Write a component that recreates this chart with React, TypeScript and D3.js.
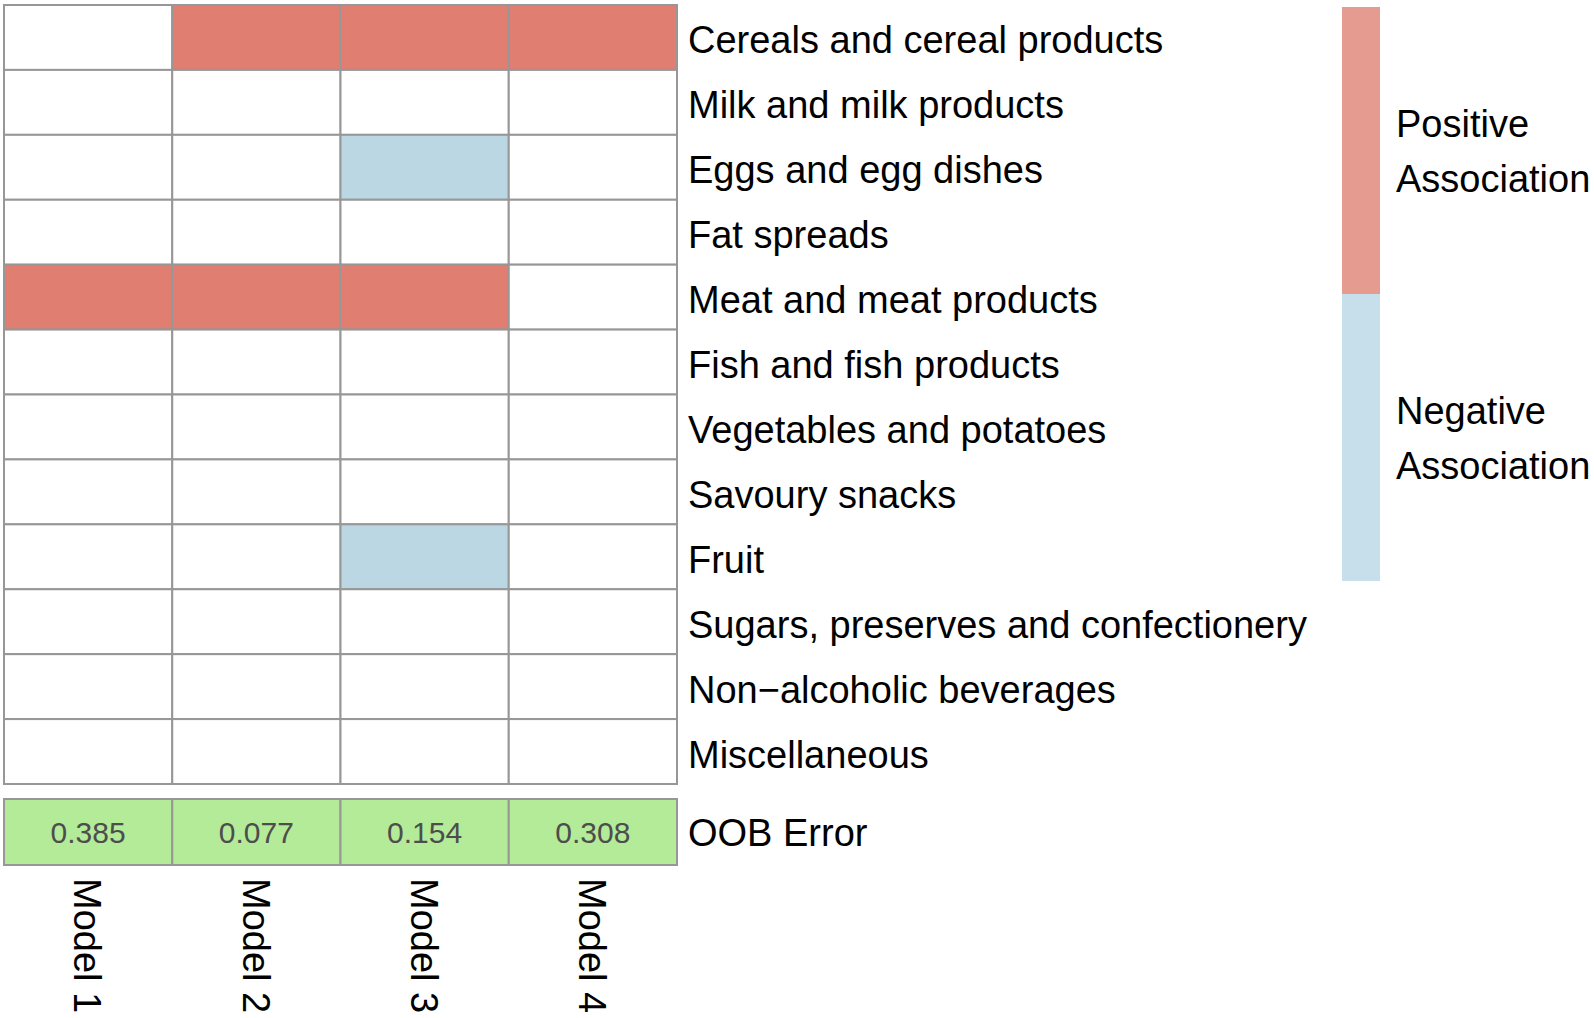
import React, {useEffect, useRef} from 'react';
import * as d3 from 'd3';

const models = ['Model 1', 'Model 2', 'Model 3', 'Model 4'];
const foodGroups = [
  'Cereals and cereal products',
  'Milk and milk products',
  'Eggs and egg dishes',
  'Fat spreads',
  'Meat and meat products',
  'Fish and fish products',
  'Vegetables and potatoes',
  'Savoury snacks',
  'Fruit',
  'Sugars, preserves and confectionery',
  'Non\u2212alcoholic beverages',
  'Miscellaneous',
];
// 1 = positive association, -1 = negative, 0 = none (one row per food group, one value per model)
const association = [
  [0, 1, 1, 1],
  [0, 0, 0, 0],
  [0, 0, -1, 0],
  [0, 0, 0, 0],
  [1, 1, 1, 0],
  [0, 0, 0, 0],
  [0, 0, 0, 0],
  [0, 0, 0, 0],
  [0, 0, -1, 0],
  [0, 0, 0, 0],
  [0, 0, 0, 0],
  [0, 0, 0, 0],
];
const oobError = [0.385, 0.077, 0.154, 0.308];
const legendLabels = [['Positive', 'Association'], ['Negative', 'Association']];

export default function App() {
  const ref = useRef<SVGSVGElement>(null);

  useEffect(() => {
    const width = 1594, height = 1018;
    const svg = d3.select(ref.current);
    svg.selectAll('*').remove();
    svg.attr('width', width).attr('height', height);

    const font = 'Liberation Sans, Arial, Helvetica, sans-serif';
    const gridColor = '#979797';

    const x = d3.scaleBand<string>().domain(models).range([4, 677]);
    const y = d3.scaleBand<string>().domain(foodGroups).range([5, 784]);
    const fill = d3.scaleOrdinal<number, string>()
      .domain([1, 0, -1])
      .range(['#e07e72', '#ffffff', '#bcd7e4']);

    const cells = foodGroups.flatMap((g, i) =>
      models.map((m, j) => ({group: g, model: m, value: association[i][j]})));

    svg.append('g')
      .selectAll('rect').data(cells).enter().append('rect')
        .attr('x', d => x(d.model)!)
        .attr('y', d => y(d.group)!)
        .attr('width', x.bandwidth())
        .attr('height', y.bandwidth())
        .attr('fill', d => fill(d.value))
        .attr('stroke', gridColor)
        .attr('stroke-width', 2);

    // row labels
    svg.append('g')
      .selectAll('text').data(foodGroups).enter().append('text')
        .attr('x', 688)
        .attr('y', d => y(d)! + y.bandwidth() / 2)
        .attr('dy', '0.42em')
        .attr('font-family', font)
        .attr('font-size', 38)
        .attr('fill', '#000')
        .text(d => d);

    // OOB error row
    const oobTop = 799, oobH = 66;
    const oob = svg.append('g');
    oob.selectAll('rect').data(oobError).enter().append('rect')
      .attr('x', (d, i) => x(models[i])!)
      .attr('y', oobTop)
      .attr('width', x.bandwidth())
      .attr('height', oobH)
      .attr('fill', '#b3eb98')
      .attr('stroke', gridColor)
      .attr('stroke-width', 2);
    oob.selectAll('text').data(oobError).enter().append('text')
      .attr('x', (d, i) => x(models[i])! + x.bandwidth() / 2)
      .attr('y', oobTop + oobH / 2)
      .attr('dy', '0.36em')
      .attr('text-anchor', 'middle')
      .attr('font-family', font)
      .attr('font-size', 30)
      .attr('fill', '#4d4d4d')
      .text(d => d3.format('.3f')(d));
    oob.append('text')
      .attr('x', 688)
      .attr('y', oobTop + oobH / 2)
      .attr('dy', '0.38em')
      .attr('font-family', font)
      .attr('font-size', 38)
      .text('OOB Error');

    // column labels, rotated
    svg.append('g')
      .selectAll('text').data(models).enter().append('text')
        .attr('transform', d => `translate(${x(d)! + x.bandwidth() / 2},878) rotate(90)`)
        .attr('dy', '0.36em')
        .attr('font-family', font)
        .attr('font-size', 38)
        .text(d => d);

    // legend
    const ly = d3.scaleBand<number>().domain([0, 1]).range([7, 581]);
    const legendColors = ['#e69b91', '#c7dfea'];
    const legend = svg.append('g');
    legend.selectAll('rect').data([0, 1]).enter().append('rect')
      .attr('x', 1342)
      .attr('y', d => ly(d)!)
      .attr('width', 38)
      .attr('height', ly.bandwidth())
      .attr('fill', d => legendColors[d]);
    legend.selectAll('text').data([0, 1]).enter().append('text')
      .attr('x', 1396)
      .attr('y', d => ly(d)! + ly.bandwidth() / 2)
      .attr('font-family', font)
      .attr('font-size', 38)
      .selectAll('tspan').data(d => legendLabels[d]).enter().append('tspan')
        .attr('x', 1396)
        .attr('dy', (t, i) => i === 0 ? '-0.36em' : '1.46em')
        .text(t => t);
  }, []);

  return (
    <svg ref={ref} style={{position: 'absolute', left: 0, top: 0}} />
  );
}
